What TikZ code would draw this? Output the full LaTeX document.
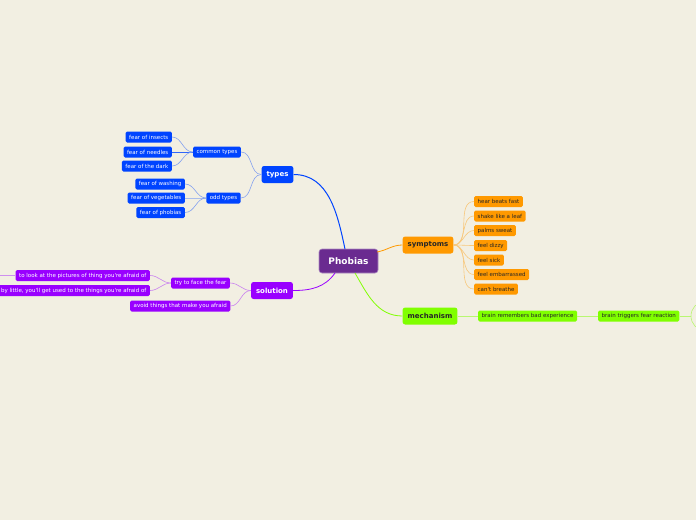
\documentclass[tikz,border=0pt]{standalone}
\usepackage{fontspec}
\newfontfamily\mapfont{DejaVu Sans}
\definecolor{paper}{HTML}{F2EFE2}
\definecolor{rootc}{HTML}{6A2B90}
\definecolor{typec}{HTML}{0044FF}
\definecolor{symc}{HTML}{FF9900}
\definecolor{mechc}{HTML}{80FF00}
\definecolor{solc}{HTML}{9900FF}
\tikzset{
  rootbox/.style={fill=rootc, draw=rootc!55!white, line width=0.6pt, text=white,
    rounded corners=3pt, minimum width=59pt, minimum height=24pt,
    font=\mapfont\bfseries\fontsize{9}{10}\selectfont},
  mainbox/.style={rounded corners=2.5pt, minimum height=17pt, inner xsep=5pt,
    font=\mapfont\bfseries\fontsize{7}{8}\selectfont},
  leafbox/.style={rounded corners=1.5pt, minimum height=11pt, inner xsep=3.5pt, inner ysep=0pt,
    font=\mapfont\fontsize{5.5}{6}\selectfont},
  bluebox/.style={fill=typec, text=white},
  orangebox/.style={fill=symc, text=black!85},
  greenbox/.style={fill=mechc, text=black!85},
  purplebox/.style={fill=solc, text=white},
  twig/.style={line width=0.6pt},
}
\begin{document}
\begin{tikzpicture}[x=1pt, y=-1pt]
    % 背景
    \fill[paper] (0,0) rectangle (696,520);
    \useasboundingbox (0,0) rectangle (696,520);

    % 中心
    \node[rootbox] (phobias) at (348.5,261) {Phobias};

    % 一级分支
    \node[mainbox, bluebox] (types) at (277.5,174.5) {types};
    \node[mainbox, orangebox] (symptoms) at (428,245) {symptoms};
    \node[mainbox, greenbox] (mechanism) at (430,316) {mechanism};
    \node[mainbox, purplebox] (solution) at (272,290.5) {solution};

    \draw[typec, line width=1pt] (345,249) to[out=102,in=0] (types.east);
    \draw[symc, line width=0.8pt] (377,252) to[out=10,in=180] (symptoms.west);
    \draw[mechc, line width=0.8pt] (355,273) to[out=-60,in=180] (mechanism.west);
    \draw[solc, line width=0.8pt] (335,273) to[out=-125,in=0] (solution.east);

    % types
    \node[leafbox, bluebox] (common) at (217,152) {common types};
    \node[leafbox, bluebox] (odd) at (223.5,198) {odd types};
    \node[leafbox, bluebox, anchor=east] (insects) at (172,137) {fear of insects};
    \node[leafbox, bluebox, anchor=east] (needles) at (172,152) {fear of needles};
    \node[leafbox, bluebox, anchor=east] (dark) at (172,166) {fear of the dark};
    \node[leafbox, bluebox, anchor=east] (washing) at (185,184) {fear of washing};
    \node[leafbox, bluebox, anchor=east] (vegetables) at (185,198) {fear of vegetables};
    \node[leafbox, bluebox, anchor=east] (phobiafear) at (185,212.5) {fear of phobias};

    \draw[twig, typec!45!paper] (types.west) to[out=180,in=0] (common.east);
    \draw[twig, typec!45!paper] (types.west) to[out=180,in=0] (odd.east);
    \draw[twig, typec!45!paper] (common.west) to[out=180,in=0] (insects.east);
    \draw[line width=1pt, typec!80!paper] (common.west) -- (needles.east);
    \draw[twig, typec!45!paper] (common.west) to[out=180,in=0] (dark.east);
    \draw[twig, typec!45!paper] (odd.west) to[out=180,in=0] (washing.east);
    \draw[line width=1pt, typec!30!paper] (odd.west) -- (vegetables.east);
    \draw[twig, typec!45!paper] (odd.west) to[out=180,in=0] (phobiafear.east);

    % symptoms
    \foreach \name/\txt/\y in {heart/hear beats fast/201.5, shake/shake like a leaf/216,
        palms/palms sweat/230.5, dizzy/feel dizzy/245.5, sick/feel sick/260,
        embarrassed/feel embarrassed/274.5, breathe/can't breathe/289}
    {
        \node[leafbox, orangebox, anchor=west] (\name) at (474,\y) {\txt};
        \draw[twig, symc!45!paper] (symptoms.east) to[out=0,in=180] (\name.west);
    }

    % mechanism
    \node[leafbox, greenbox, anchor=west] (remembers) at (478,316) {brain remembers bad experience};
    \node[leafbox, greenbox, anchor=west] (triggers) at (598,316) {brain triggers fear reaction};
    \coordinate (fork) at (691,316);
    \draw[twig, mechc!50!paper] (mechanism.east) -- (remembers.west);
    \draw[twig, mechc!50!paper] (remembers.east) -- (triggers.west);
    \draw[twig, mechc!50!paper] (triggers.east) -- (fork);
    \draw[twig, mechc!50!paper] (fork) to[out=90,in=180] (704,302);
    \draw[twig, mechc!50!paper] (fork) to[out=-90,in=180] (704,330);

    % solution
    \node[leafbox, purplebox] (face) at (200.5,283) {try to face the fear};
    \node[leafbox, purplebox, anchor=east] (avoid) at (230.5,306) {avoid things that make you afraid};
    \node[leafbox, purplebox, anchor=east] (pictures) at (150,275.5) {to look at the pictures of thing you're afraid of};
    \node[leafbox, purplebox, anchor=east] (little) at (150,290.5) {by little, you'll get used to the things you're afraid of};
    \coordinate (offleft) at (-10,275.5);

    \draw[twig, solc!45!paper] (solution.west) to[out=180,in=0] (face.east);
    \draw[twig, solc!45!paper] (solution.west) to[out=180,in=0] (avoid.east);
    \draw[twig, solc!45!paper] (face.west) to[out=180,in=0] (pictures.east);
    \draw[twig, solc!45!paper] (face.west) to[out=180,in=0] (little.east);
    \draw[line width=1pt, solc!40!paper] (pictures.west) -- (offleft);
\end{tikzpicture}
\end{document}
